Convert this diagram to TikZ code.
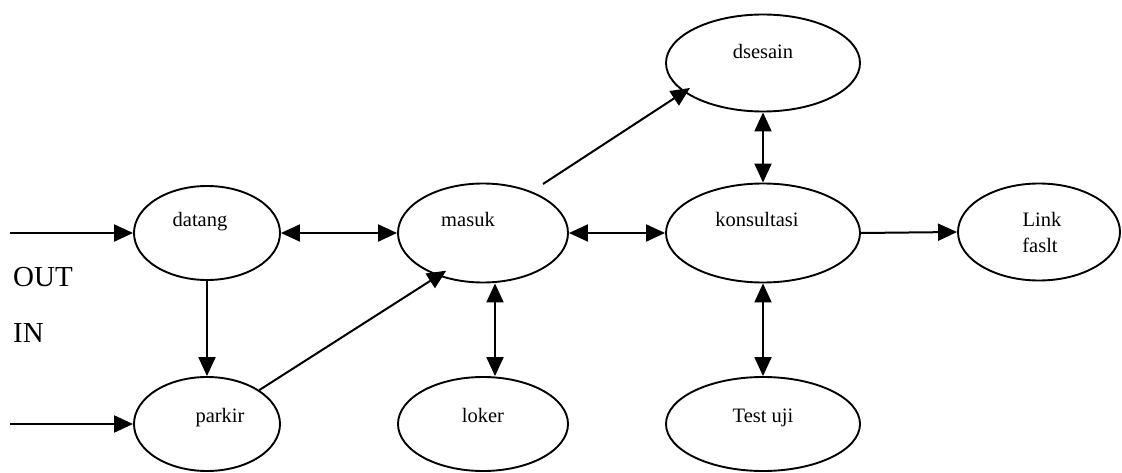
\documentclass[tikz,border=0pt]{standalone}
\usepackage{fontspec}
\setmainfont{Liberation Serif}
\usetikzlibrary{arrows.meta,shapes.geometric,calc}

\tikzset{
  stbox/.style={draw, ellipse, line width=1.9pt, inner sep=0pt,
                minimum width=#1},
  stbox/.default=170pt,
  lbl/.style={anchor=base, inner sep=0pt, font=\fontsize{20.5}{24}\selectfont},
  side/.style={anchor=base west, inner sep=0pt, font=\fontsize{29}{34}\selectfont},
  tip/.tip={Triangle[length=19pt,width=17pt]},
  flow/.style={line width=2pt, -tip},
  both/.style={line width=2pt, tip-tip},
}

\begin{document}
\begin{tikzpicture}[x=1pt, y=-1pt]
  \useasboundingbox (0,0) rectangle (1122,473);

  % states
  \node[stbox=146pt, minimum height=94pt] (datang) at (207,233) {};
  \node[stbox=146pt, minimum height=94pt] (parkir) at (207,424) {};
  \node[stbox=170pt, minimum height=99pt] (masuk) at (483,233) {};
  \node[stbox=170pt, minimum height=94pt] (loker) at (483,424) {};
  \node[stbox=194pt, minimum height=99pt] (konsul) at (763,233) {};
  \node[stbox=194pt, minimum height=97pt] (desain) at (763,63) {};
  \node[stbox=194pt, minimum height=94pt] (test) at (763,424) {};
  \node[stbox=162pt, minimum height=97pt] (link) at (1039,232) {};

  % state names
  \node[lbl] (t-datang) at (200,227) {datang};
  \node[lbl] (t-parkir) at (220,422) {parkir};
  \node[lbl] (t-masuk) at (468,227) {masuk};
  \node[lbl] (t-loker) at (483,422) {loker};
  \node[lbl] (t-konsul) at (757,227) {konsultasi};
  \node[lbl] (t-desain) at (763,59) {dsesain};
  \node[lbl] (t-test) at (763,422) {Test uji};
  \node[lbl] (t-link1) at (1042,227) {Link};
  \node[lbl] (t-link2) at (1040,252) {faslt};

  % side labels
  \node[side] (out) at (13,286) {OUT};
  \node[side] (in) at (13,342) {IN};

  % entry points
  \coordinate (e1) at (10,233);
  \coordinate (e2) at (10,424);

  % transitions
  \draw[flow] (e1) -- (datang.west);
  \draw[flow] (e2) -- (parkir.west);
  \draw[flow] (datang.south) -- (parkir.north);
  \draw[both] (datang.east) -- (masuk.west);
  \draw[flow] (parkir.north east) -- ($(masuk.south west)+(24,2)$);
  \draw[both] (masuk.east) -- (konsul.west);
  \draw[flow] ($(masuk.center)+(60,-49)$) -- ($(desain.center)+(-73,25)$);
  \draw[both] (desain.south) -- (konsul.north);
  \draw[flow] (konsul.east) -- (link.west);
  \draw[both] ([xshift=12pt]masuk.south) -- ([xshift=12pt]loker.north);
  \draw[both] (konsul.south) -- (test.north);
\end{tikzpicture}
\end{document}
